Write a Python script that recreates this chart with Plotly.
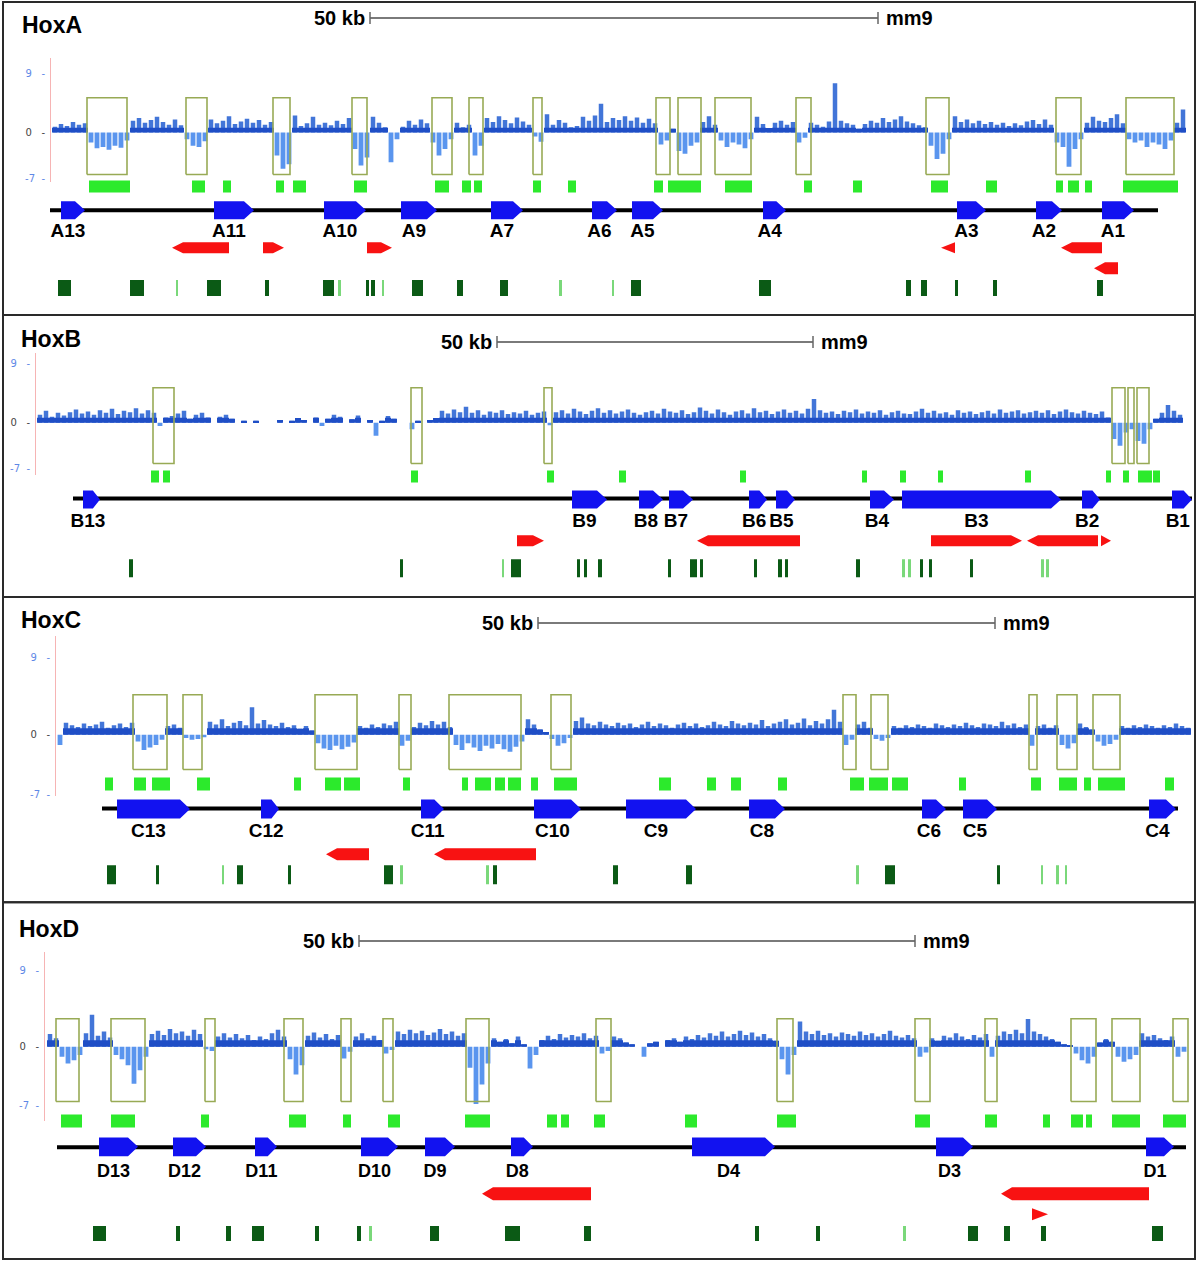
import numpy as np
import plotly.graph_objects as go

W, H = 1200, 1266
STEP = 6  # signal bin width (track units)

# ============================ HoxA ============================
A_sig_x0 = 52
A_sig = [0.9, 1.3, 1.0, 1.6, 1.2, 1.4,
         -1.5, -2.4, -2.2, -2.6, -2.0, -2.3, -1.2,
         1.8, 2.2, 1.5, 1.9, 2.4, 1.6, 1.2, 2.0, 1.1,
         -1.0, -2.0, -2.2, -1.3,
         2.0, 1.4, 1.8, 2.5, 1.3, 1.7, 2.1, 1.5, 1.9, 1.2, 1.6,
         -3.5, -5.5, -4.8,
         2.6, 1.0, 1.4, 2.4, 1.2, 1.5, 1.1, 1.8, 1.3, 2.2,
         -2.5, -5.0, -3.8,
         2.4, 1.5, 0.8, -4.5, -1.0, 0.9, 1.8, 1.2, 2.0, 1.4,
         -1.5, -3.5, -2.5, -1.0,
         1.5, 0.8, 1.2,
         -3.5, -2.0,
         2.2, 1.6, 2.5, 1.9, 1.4, 2.3, 1.7, 1.2,
         -0.6, -1.4,
         2.8, 1.2, 1.9, 1.5, 0.8, 1.0, 2.4, 1.8, 2.6, 4.4, 1.6, 2.2, 1.9, 2.5, 1.8, 2.3, 1.5, 2.1, 1.4,
         -1.8, -1.2,
         0.6,
         -2.8, -3.2, -2.0, -1.5,
         1.6, 2.5, 1.2,
         -1.2, -2.2, -1.5, -1.8, -2.4, -1.0,
         2.4, 1.3, 0.7, 1.5, 1.8, 1.2, 1.6,
         -1.5, -0.8,
         1.5, 1.2, 0.9, 1.7, 7.5, 1.8, 1.4, 1.2, 0.6, 1.3, 1.8, 1.5, 2.2, 1.6, 2.0, 2.5, 1.7, 1.4, 1.1, 0.8,
         -2.0, -4.0, -3.2, -1.0,
         2.5, 1.6, 2.0, 1.4, 1.8, 1.3, 1.6, 1.2, 1.5, 1.0, 1.4, 1.1, 1.7, 1.9, 1.3, 2.0, 1.2,
         -1.5, -2.2, -5.2, -2.5, -1.0,
         1.5, 2.4, 1.8, 1.6, 2.2, 2.8, 1.4,
         -1.0, -1.5, -1.2, -2.2, -1.5, -1.8, -2.5, -1.2,
         1.5, 3.5]
A_rect_start = [87, 186, 273, 352, 432, 469, 533, 656, 678, 715, 796, 926, 1056, 1126]
A_rect_end = [127, 207, 290, 367, 452, 483, 542, 670, 701, 751, 811, 949, 1081, 1174]
A_block_start = [89, 192, 223, 276, 293, 354, 435, 462, 474, 533, 568, 654, 668, 725, 804, 853, 931, 986, 1056, 1068, 1085, 1123]
A_block_end = [130, 205, 231, 284, 306, 367, 449, 471, 482, 541, 576, 663, 701, 752, 812, 862, 948, 997, 1063, 1079, 1092, 1178]
A_gene_name = ["A13", "A11", "A10", "A9", "A7", "A6", "A5", "A4", "A3", "A2", "A1"]
A_gene_start = [61, 214, 324, 401, 491, 592, 632, 763, 957, 1036, 1102]
A_gene_end = [85, 254, 366, 437, 523, 617, 663, 786, 986, 1062, 1134]
A_red_start = [172, 263, 367, 941, 1061, 1094]
A_red_end = [229, 284, 392, 955, 1102, 1118]
A_red_dir = [-1, 1, 1, -1, -1, -1]
A_red_row = [0, 0, 0, 0, 0, 1]
A_dark_start = [58, 130, 207, 265, 323, 366, 371, 412, 457, 500, 631, 759, 906, 921, 955, 993, 1097]
A_dark_end = [71, 144, 221, 269, 334, 369, 375, 423, 463, 508, 641, 771, 911, 927, 958, 997, 1103]
A_light_start = [176, 338, 382, 559, 612]
A_light_end = [178, 341, 384, 562, 614]
A_line = [50, 1158]
A_scale = [370, 878]

# ============================ HoxB ============================
N = None
B_sig_x0 = 37
B_sig = [1.2, 1.8, 0.9, 1.5, 1.1, 1.6, 2.0, 1.4, 1.7, 1.2, 1.9, 1.5, 2.1, 1.3, 1.8, 1.6, 2.2, 1.4, 1.9, 1.5,
         -0.5, 0.8, 1.0,
         1.4, 1.8, 0.6, 1.2,
         1.5, 0.8, N, 0.9, 1.2, 0.6, N, 0.3, N, 0.3, N, N, N, 0.4, N, 0.3, 0.7, 0.4, N, 0.8, -0.5, 0.6, 1.2, 0.9,
         N, 0.5, 1.1, N, 0.4, -2.0, 0.3, 1.0, 0.6, N, N, -1.0, 0.3, N, 0.4, 0.7,
         1.8, 1.4, 2.0, 1.6, 2.4, 1.5, 1.9, 1.2, 1.7, 1.5, 1.9, 1.3, 1.6, 1.4, 1.8, 1.2, 1.5, 1.7,
         -0.4,
         1.6, 1.9, 1.4, 2.1, 1.7, 1.3, 1.8, 2.2, 1.5, 1.9,
         1.4, 1.7, 2.0, 1.5, 1.2, 1.6, 1.8, 1.4, 2.1, 1.7,
         1.5, 1.9, 1.3, 1.6, 2.3, 1.8, 1.4, 2.0, 1.6, 1.2,
         1.7, 1.9, 1.4, 2.2, 1.6, 1.8, 1.3, 1.7, 2.0, 1.5,
         1.8, 1.4, 2.1, 3.6, 1.9, 1.5, 1.7, 1.3, 1.8, 1.6,
         2.0, 1.4, 1.7, 1.5, 1.9, 1.2, 1.6, 1.8, 1.4, 1.3,
         1.7, 2.1, 1.5, 1.8, 1.4, 1.6, 1.2, 1.9, 1.5, 1.7,
         1.3, 1.6, 1.8, 1.4, 2.0, 1.5, 1.7, 1.9, 1.4, 1.6,
         1.8, 1.5, 1.9, 1.3, 1.7, 2.0, 1.6, 1.4, 1.8, 1.5,
         1.3, 1.7, 0.8,
         -2.5, -3.5, -1.5, -1.0, -2.8, -3.2, -1.0,
         0.6, 1.5, 2.7, 1.8, 1.2]
B_rect_start = [153, 411, 544, 1112, 1128, 1137]
B_rect_end = [174, 422, 552, 1125, 1134, 1149]
B_block_start = [151, 163, 411, 547, 619, 740, 862, 900, 938, 1025, 1106, 1123, 1138, 1153]
B_block_end = [159, 170, 418, 554, 626, 746, 867, 906, 943, 1031, 1111, 1129, 1152, 1160]
B_gene_name = ["B13", "B9", "B8", "B7", "B6", "B5", "B4", "B3", "B2", "B1"]
B_gene_start = [83, 572, 639, 669, 749, 776, 870, 902, 1082, 1172]
B_gene_end = [100, 607, 663, 693, 767, 795, 894, 1061, 1100, 1192]
B_red_start = [517, 697, 931, 1027, 1101]
B_red_end = [544, 800, 1022, 1098, 1111]
B_red_dir = [1, -1, 1, -1, 1]
B_red_row = [0, 0, 0, 0, 0]
B_dark_start = [129, 400, 511, 577, 584, 598, 668, 690, 700, 754, 778, 785, 856, 920, 929, 970]
B_dark_end = [133, 403, 521, 580, 587, 602, 671, 697, 703, 757, 782, 788, 860, 923, 932, 973]
B_light_start = [502, 902, 908, 1041, 1046]
B_light_end = [504, 905, 911, 1044, 1049]
B_line = [73, 1192]
B_scale = [497, 813]

# ============================ HoxC ============================
C_sig_x0 = 57
C_sig = [-1.2,
         1.4, 1.1, 0.9, 1.3, 1.0, 1.2, 1.5, 0.8, 1.1, 1.3, 0.9, 1.4,
         -0.8, -1.8, -1.5, -1.2, -0.6, 1.0,
         1.2, 0.8,
         -0.4, -0.6, -0.5, -0.3,
         1.5, 1.2, 1.8, 1.0, 1.4, 1.6, 1.1, 3.2, 1.3, 1.7, 1.2, 1.0, 1.4, 0.9, 1.1, 0.7, 1.0, 0.5,
         -1.0, -1.6, -1.8, -1.3, -1.7, -1.4, -0.9,
         1.0, 0.8, 1.2, 0.9, 1.3, 1.1, 1.5,
         -1.3, -0.7,
         0.9, 1.4, 1.1, 1.6, 1.2, 1.5, 0.9,
         -1.2, -1.8, -1.0, -1.5, -1.9, -1.3, -1.6, -1.1, -1.7, -2.0, -1.4, -0.8,
         1.8, 1.2, 0.6, 0.3,
         -0.5, -1.3, -1.0, -0.4,
         1.6, 2.0, 1.3, 1.1, 1.5, 1.2, 1.0, 1.4, 1.1, 1.3,
         0.9, 1.2, 1.5, 1.0, 1.3, 1.1, 0.8, 1.2, 1.4, 1.0,
         1.3, 0.9, 1.1, 1.5, 1.2, 1.0, 1.6, 1.3, 1.1, 1.4,
         1.2, 1.7, 1.0, 1.3, 1.5, 1.8, 1.2, 1.4, 1.9, 1.1,
         1.6, 1.3, 1.8, 2.9, 1.5,
         -1.2, -0.6,
         1.2, 1.5, 0.8,
         -0.5, -0.7, -0.4,
         1.0, 0.8, 1.1, 0.9, 1.2, 1.0, 0.8, 1.3, 1.1, 0.9, 1.2, 1.0, 1.4, 1.1, 0.9, 1.3, 1.2, 1.0, 1.5, 1.1, 1.3, 0.9, 1.2,
         -1.3,
         1.0, 1.2, 0.8, 1.1,
         -1.2, -1.6, -1.0,
         1.3, 0.9, 0.6,
         -0.8, -1.3, -1.1, -0.6,
         1.0, 0.8, 1.1, 0.9, 1.2, 1.0, 0.8, 1.1, 0.9, 1.3, 1.0, 0.8]
C_rect_start = [133, 183, 315, 399, 449, 551, 843, 871, 1029, 1057, 1093]
C_rect_end = [167, 202, 357, 411, 521, 571, 856, 888, 1037, 1077, 1120]
C_block_start = [105, 134, 152, 197, 294, 325, 344, 403, 462, 475, 495, 508, 531, 554, 659, 707, 731, 778, 850, 869, 892, 959, 1031, 1059, 1084, 1098, 1165]
C_block_end = [113, 146, 170, 210, 301, 341, 360, 410, 468, 491, 505, 521, 538, 577, 671, 716, 741, 787, 864, 888, 908, 966, 1041, 1077, 1091, 1125, 1174]
C_gene_name = ["C13", "C12", "C11", "C10", "C9", "C8", "C6", "C5", "C4"]
C_gene_start = [117, 261, 421, 534, 626, 749, 922, 963, 1149]
C_gene_end = [190, 279, 444, 581, 696, 785, 946, 997, 1176]
C_red_start = [326, 434]
C_red_end = [369, 536]
C_red_dir = [-1, -1]
C_red_row = [0, 0]
C_dark_start = [107, 156, 237, 288, 384, 493, 613, 686, 885, 997]
C_dark_end = [116, 159, 243, 291, 393, 497, 618, 692, 895, 1000]
C_light_start = [222, 400, 486, 856, 1041, 1056, 1065]
C_light_end = [224, 403, 489, 859, 1043, 1059, 1067]
C_line = [102, 1178]
C_scale = [538, 995]

# ============================ HoxD ============================
D_sig_x0 = 47
D_sig = [1.5, 1.0,
         -1.2, -2.0, -1.6, -1.0,
         1.6, 3.8, 1.3, 1.8, 1.1,
         -1.0, -1.5, -2.2, -4.4, -2.8, -1.2,
         1.5, 1.9, 1.4, 2.1, 1.6, 1.8, 1.3, 2.0, 1.5,
         -0.3, -0.5,
         1.2, 1.6, 1.1, 1.5, 1.0, 1.4, 0.8, 1.2, 0.9, 1.6, 2.0, 1.2,
         -1.5, -3.3, -2.2,
         1.3, 1.7, 1.1, 1.5, 0.9, 1.4,
         -1.4, -0.6,
         1.2, 1.6, 1.0, 1.3, 0.8,
         -0.8, -0.4,
         1.8, 1.5, 2.0, 1.6, 1.9, 1.4, 1.7, 2.1, 1.5, 1.8, 1.3, 1.6,
         -2.5, -6.8, -4.5, -2.0,
         1.0, 0.6, 0.9, 0.4, 1.2, 0.3,
         -2.6, -1.0,
         0.8, 1.3, 0.9, 1.5, 1.1, 1.4, 1.2, 1.6, 1.0, 1.3,
         -0.8, -0.5,
         1.2, 1.0, 0.5, 0.3, N, -1.2, 0.4, 0.6, N, 0.8, 1.0, 0.6, 1.2, 0.9, 1.4, 1.1, 1.6, 1.3, 1.8, 1.2,
         1.5, 1.9, 1.4, 1.7, 1.2, 1.5, 1.0, 0.7,
         -1.5, -3.3, -1.0,
         3.0, 1.8, 1.5, 1.9, 1.4, 1.6, 1.2, 1.7, 1.5, 1.3, 1.8, 1.4, 1.6, 1.2, 1.5, 1.9, 1.3, 1.1, 1.4, 1.0,
         -1.2, -0.7,
         1.0, 0.7, 1.3, 1.1, 1.6, 1.2, 0.9, 1.4, 1.1, 1.5,
         -1.2,
         1.3, 1.8, 1.5, 2.0, 1.6, 3.3, 1.8, 1.5, 1.2, 0.9, 0.6, 0.3, 0.2,
         -0.8, -1.6, -2.0, -1.2,
         0.5, 0.9, 0.6,
         -1.2, -1.8, -1.5, -1.0,
         1.6, 1.2, 1.4, 1.0, 0.8, 1.2,
         -1.2, -0.6]
D_rect_start = [56, 111, 205, 284, 341, 383, 466, 596, 777, 915, 985, 1071, 1112, 1173]
D_rect_end = [79, 145, 215, 303, 351, 393, 489, 611, 793, 930, 997, 1096, 1140, 1188]
D_block_start = [61, 111, 201, 289, 343, 388, 465, 547, 561, 594, 685, 777, 915, 985, 1043, 1071, 1086, 1112, 1163]
D_block_end = [82, 135, 209, 306, 351, 400, 490, 557, 569, 605, 697, 796, 930, 997, 1050, 1083, 1092, 1140, 1186]
D_gene_name = ["D13", "D12", "D11", "D10", "D9", "D8", "D4", "D3", "D1"]
D_gene_start = [99, 173, 255, 361, 425, 511, 692, 936, 1146]
D_gene_end = [138, 206, 277, 398, 455, 533, 775, 973, 1174]
D_red_start = [482, 1001, 1032]
D_red_end = [591, 1149, 1048]
D_red_dir = [-1, -1, 1]
D_red_row = [0, 0, 1]
D_dark_start = [93, 176, 226, 252, 315, 357, 430, 505, 584, 755, 816, 968, 1004, 1041, 1152]
D_dark_end = [106, 180, 231, 264, 319, 361, 439, 520, 591, 759, 820, 978, 1010, 1046, 1163]
D_light_start = [369, 903]
D_light_end = [372, 906]
D_line = [57, 1186]
D_scale = [359, 915]

TITLES = ["HoxA", "HoxB", "HoxC", "HoxD"]

# ------------------------- layout (pixel rows) -------------------------
LAY = [
    dict(top=2, bot=316, title_x=22, title_y=25, scale_y=18, axis_x=50, axis_top=58, axis_bot=183,
         zero=133, ppu=6.6, rect=(98, 175), block=(181, 193), line_y=211, gene=(202, 220), label_y=233,
         red=[(243, 254), (263, 275)], ticks=(281, 297), lsize=19),
    dict(top=316, bot=599, title_x=21, title_y=340, scale_y=343, axis_x=35, axis_top=354, axis_bot=477,
         zero=424, ppu=6.6, rect=(389, 465), block=(472, 484), line_y=500, gene=(492, 510), label_y=524,
         red=[(537, 548)], ticks=(561, 579), lsize=19),
    dict(top=599, bot=905, title_x=21, title_y=622, scale_y=625, axis_x=55, axis_top=638, axis_bot=799,
         zero=737, ppu=8.6, rect=(697, 772), block=(780, 793), line_y=811, gene=(802, 821), label_y=835,
         red=[(851, 863)], ticks=(868, 887), lsize=19),
    dict(top=905, bot=1263, title_x=19, title_y=932, scale_y=944, axis_x=44, axis_top=955, axis_bot=1125,
         zero=1050, ppu=8.44, rect=(1022, 1105), block=(1118, 1131), line_y=1151, gene=(1141, 1160), label_y=1176,
         red=[(1191, 1204), (1212, 1224)], ticks=(1230, 1245), lsize=18),
]

DATA = [
    dict(sx0=A_sig_x0, sig=A_sig, rs=A_rect_start, re=A_rect_end, bs=A_block_start, be=A_block_end,
         gn=A_gene_name, gs=A_gene_start, ge=A_gene_end, qs=A_red_start, qe=A_red_end, qd=A_red_dir, qr=A_red_row,
         ds=A_dark_start, de=A_dark_end, ls=A_light_start, le=A_light_end, line=A_line, scale=A_scale),
    dict(sx0=B_sig_x0, sig=B_sig, rs=B_rect_start, re=B_rect_end, bs=B_block_start, be=B_block_end,
         gn=B_gene_name, gs=B_gene_start, ge=B_gene_end, qs=B_red_start, qe=B_red_end, qd=B_red_dir, qr=B_red_row,
         ds=B_dark_start, de=B_dark_end, ls=B_light_start, le=B_light_end, line=B_line, scale=B_scale),
    dict(sx0=C_sig_x0, sig=C_sig, rs=C_rect_start, re=C_rect_end, bs=C_block_start, be=C_block_end,
         gn=C_gene_name, gs=C_gene_start, ge=C_gene_end, qs=C_red_start, qe=C_red_end, qd=C_red_dir, qr=C_red_row,
         ds=C_dark_start, de=C_dark_end, ls=C_light_start, le=C_light_end, line=C_line, scale=C_scale),
    dict(sx0=D_sig_x0, sig=D_sig, rs=D_rect_start, re=D_rect_end, bs=D_block_start, be=D_block_end,
         gn=D_gene_name, gs=D_gene_start, ge=D_gene_end, qs=D_red_start, qe=D_red_end, qd=D_red_dir, qr=D_red_row,
         ds=D_dark_start, de=D_dark_end, ls=D_light_start, le=D_light_end, line=D_line, scale=D_scale),
]

COL_POS_DENSE = "#1f4ec6"
COL_POS_SPIKE = "#4275d8"
COL_NEG = "#5a95ee"
COL_RECT = "#98aa55"
COL_BLOCK = "#2cea2c"
COL_GENE = "#1212f0"
COL_RED = "#f81212"
COL_DARK = "#0b5a15"
COL_LIGHT = "#7ad87a"
FONT = "Liberation Sans, Arial, sans-serif"
DENSE_LEVEL = 0.75  # display: part of each bar below this drawn in the darker "dense" colour
SP = "\u00a0"


def boxes(starts, ends, y0, y1):
    xs, ys = [], []
    for s, e in zip(starts, ends):
        xs += [s, e, e, s, s, None]
        ys += [y0, y0, y1, y1, y0, None]
    return xs, ys


def arrows(starts, ends, dirs, y0, y1, head_fn):
    xs, ys = [], []
    ym = (y0 + y1) / 2
    for s, e, d in zip(starts, ends, dirs):
        h = head_fn(e - s)
        if d > 0:
            xs += [s, e - h, e, e - h, s, s, None]
        else:
            xs += [e, s + h, s, s + h, e, e, None]
        ys += [y0, y0, ym, y1, y1, y0, None]
    return xs, ys


def py(y):
    return 1 - y / H


fig = go.Figure()
layout_axes = {}
annotations = []
shapes = []

for k, (L, D) in enumerate(zip(LAY, DATA)):
    n = k + 2
    xa, ya = f"x{n}", f"y{n}"
    # ---------- signal track ----------
    vals = np.array([np.nan if v is None else v for v in D["sig"]], dtype=float)
    centers = D["sx0"] + STEP * np.arange(len(vals)) + STEP / 2
    pos = np.where(vals > 0, vals, np.nan)
    dense = np.where(vals > 0, np.minimum(vals, DENSE_LEVEL), np.nan)
    neg = np.where(vals < 0, vals, np.nan)
    fig.add_trace(go.Bar(x=centers, y=pos, width=STEP * 0.75, marker=dict(color=COL_POS_SPIKE, line=dict(width=0)),
                         xaxis=xa, yaxis=ya, showlegend=False, hoverinfo="skip"))
    fig.add_trace(go.Bar(x=centers, y=dense, width=STEP, marker=dict(color=COL_POS_DENSE, line=dict(width=0)),
                         xaxis=xa, yaxis=ya, showlegend=False, hoverinfo="skip"))
    fig.add_trace(go.Bar(x=centers, y=neg, width=STEP * 0.8, marker=dict(color=COL_NEG, line=dict(width=0)),
                         xaxis=xa, yaxis=ya, showlegend=False, hoverinfo="skip"))
    ymin = -(L["axis_bot"] - L["zero"]) / L["ppu"]
    ymax = (L["zero"] - L["axis_top"]) / L["ppu"]
    r_top = (L["zero"] - L["rect"][0]) / L["ppu"]
    r_bot = (L["zero"] - L["rect"][1]) / L["ppu"]
    rx, ry = boxes(D["rs"], D["re"], r_bot, r_top)
    fig.add_trace(go.Scatter(x=rx, y=ry, mode="lines", line=dict(color=COL_RECT, width=1.6),
                             xaxis=xa, yaxis=ya, showlegend=False, hoverinfo="skip"))
    layout_axes[f"xaxis{n}"] = dict(domain=[0, 1], range=[0, W], visible=False, anchor=ya, fixedrange=True)
    layout_axes[f"yaxis{n}"] = dict(
        domain=[py(L["axis_bot"]), py(L["axis_top"])], range=[ymin, ymax], anchor="free",
        position=L["axis_x"] / W, showline=True, linecolor="#f6b4b4", linewidth=1,
        showgrid=False, zeroline=False, fixedrange=True,
        tickvals=[-7, 0, 9],
        ticktext=[f'<span style="color:#5f88e6">-7{SP}{SP}-</span>', f'<span style="color:#444">0{SP}{SP}{SP}-</span>',
                  f'<span style="color:#5f88e6">9{SP}{SP}{SP}-</span>'],
        ticks="outside", ticklen=3, tickcolor="rgba(0,0,0,0)",
        tickfont=dict(family="DejaVu Sans", size=10, color="#5f88e6"))

    # ---------- light green blocks ----------
    bx, by = boxes(D["bs"], D["be"], *L["block"])
    fig.add_trace(go.Scatter(x=bx, y=by, mode="lines", fill="toself", fillcolor=COL_BLOCK,
                             line=dict(width=0, color=COL_BLOCK), showlegend=False, hoverinfo="skip"))
    # ---------- gene axis line ----------
    fig.add_trace(go.Scatter(x=D["line"], y=[L["line_y"]] * 2, mode="lines", line=dict(color="black", width=4),
                             showlegend=False, hoverinfo="skip"))
    # ---------- genes ----------
    gx, gy = arrows(D["gs"], D["ge"], [1] * len(D["gs"]), *L["gene"], lambda l: min(10, 0.42 * l))
    fig.add_trace(go.Scatter(x=gx, y=gy, mode="lines", fill="toself", fillcolor=COL_GENE,
                             line=dict(width=0, color=COL_GENE), showlegend=False, hoverinfo="skip"))
    heads = [min(10, 0.42 * (e - s)) for s, e in zip(D["gs"], D["ge"])]
    lab_x = [(s + e - h) / 2 for s, e, h in zip(D["gs"], D["ge"], heads)]
    fig.add_trace(go.Scatter(x=lab_x, y=[L["label_y"]] * len(lab_x), mode="text",
                             text=[f"<b>{g}</b>" for g in D["gn"]],
                             textfont=dict(family=FONT, size=L["lsize"], color="black"),
                             showlegend=False, hoverinfo="skip"))
    # ---------- red arrows ----------
    for row, (y0, y1) in enumerate(L["red"]):
        idx = [i for i, r in enumerate(D["qr"]) if r == row]
        if not idx:
            continue
        qx, qy = arrows([D["qs"][i] for i in idx], [D["qe"][i] for i in idx], [D["qd"][i] for i in idx],
                        y0, y1, lambda l: l if l <= 16 else 11)
        fig.add_trace(go.Scatter(x=qx, y=qy, mode="lines", fill="toself", fillcolor=COL_RED,
                                 line=dict(width=0, color=COL_RED), showlegend=False, hoverinfo="skip"))
    # ---------- dark / light green ticks ----------
    tx, ty = boxes(D["ls"], D["le"], *L["ticks"])
    fig.add_trace(go.Scatter(x=tx, y=ty, mode="lines", fill="toself", fillcolor=COL_LIGHT,
                             line=dict(width=0, color=COL_LIGHT), showlegend=False, hoverinfo="skip"))
    tx, ty = boxes(D["ds"], D["de"], *L["ticks"])
    fig.add_trace(go.Scatter(x=tx, y=ty, mode="lines", fill="toself", fillcolor=COL_DARK,
                             line=dict(width=0, color=COL_DARK), showlegend=False, hoverinfo="skip"))
    # ---------- scale bar ----------
    s0, s1 = D["scale"]
    sy = L["scale_y"]
    fig.add_trace(go.Scatter(x=[s0, s1], y=[sy, sy], mode="lines", line=dict(color="#7a7a7a", width=2),
                             showlegend=False, hoverinfo="skip"))
    fig.add_trace(go.Scatter(x=[s0, s0, None, s1, s1], y=[sy - 6, sy + 6, None, sy - 6, sy + 6], mode="lines",
                             line=dict(color="#666", width=1.5), showlegend=False, hoverinfo="skip"))
    annotations.append(dict(x=s0 - 3, y=sy, xref="x", yref="y", text="<b>50 kb</b>", showarrow=False,
                            xanchor="right", yanchor="middle", font=dict(family=FONT, size=20, color="black")))
    annotations.append(dict(x=s1 + 6, y=sy, xref="x", yref="y", text="<b>mm9</b>", showarrow=False,
                            xanchor="left", yanchor="middle", font=dict(family=FONT, size=20, color="black")))
    # ---------- title ----------
    annotations.append(dict(x=L["title_x"] - 2, y=L["title_y"], xref="x", yref="y", text=f"<b>{TITLES[k]}</b>",
                            showarrow=False, xanchor="left", yanchor="middle",
                            font=dict(family=FONT, size=23, color="black")))
    # ---------- panel frame ----------
    shapes.append(dict(type="rect", xref="paper", yref="paper", x0=3 / W, x1=1195 / W,
                       y0=py(L["bot"]), y1=py(L["top"]), line=dict(color="#2a2a2a", width=2)))

fig.update_layout(
    width=W, height=H, margin=dict(l=0, r=0, t=0, b=0),
    paper_bgcolor="white", plot_bgcolor="rgba(0,0,0,0)",
    barmode="overlay", showlegend=False,
    xaxis=dict(domain=[0, 1], range=[0, W], visible=False, fixedrange=True),
    yaxis=dict(domain=[0, 1], range=[H, 0], visible=False, fixedrange=True),
    annotations=annotations, shapes=shapes,
    **layout_axes,
)

fig.write_html("out.html", config={"displayModeBar": False},
               post_script="document.body.style.margin='0px';document.body.style.overflow='hidden';")
